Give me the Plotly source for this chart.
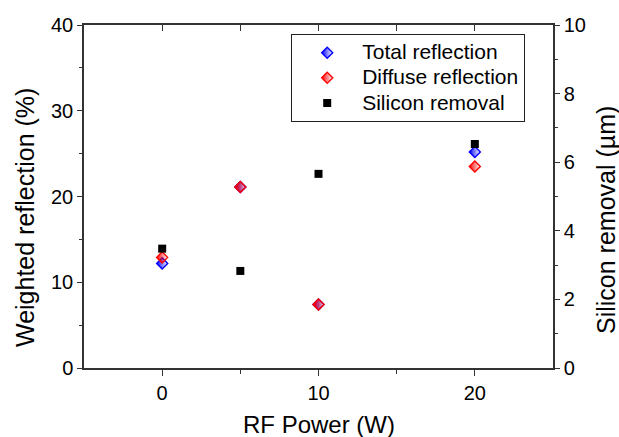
import plotly.graph_objects as go

rf_power = [0, 5, 10, 20]
total_reflection = [12.2, 21.1, 7.4, 25.2]
diffuse_reflection = [12.9, 21.1, 7.4, 23.5]
silicon_removal = [3.48, 2.83, 5.66, 6.53]
series_names = ["Total reflection", "Diffuse reflection", "Silicon removal"]

W, H = 619, 437
L, R, T, B = 84, 553, 25, 368

FONT = "Liberation Sans, Arial, sans-serif"
AX = "#333333"


def big(s):
    return '<span style="font-size:21px">' + s + '</span>'


fig = go.Figure()

fig.add_trace(go.Scatter(
    x=rf_power, y=total_reflection, mode="markers", name=big(series_names[0]),
    marker=dict(symbol="diamond", size=8.5, color="blue",
                gradient=dict(type="horizontal", color="rgba(0,0,255,0)"),
                line=dict(color="blue", width=1.4)),
))
fig.add_trace(go.Scatter(
    x=rf_power, y=diffuse_reflection, mode="markers", name=big(series_names[1]),
    marker=dict(symbol="diamond", size=8.5, color="red",
                gradient=dict(type="horizontal", color="rgba(255,0,0,0)"),
                line=dict(color="red", width=1.4)),
))
fig.add_trace(go.Scatter(
    x=rf_power, y=silicon_removal, mode="markers", name=big(series_names[2]),
    yaxis="y2",
    marker=dict(symbol="square", size=8, color="black", line=dict(width=0)),
))
# invisible trace for the top axis
fig.add_trace(go.Scatter(x=[rf_power[0]], y=[total_reflection[0]], xaxis="x2",
                         mode="markers", marker=dict(opacity=0), showlegend=False,
                         hoverinfo="skip"))

tickfont = dict(family=FONT, size=20, color="black")

fig.update_layout(
    width=W, height=H,
    margin=dict(l=L, r=W - R, t=T, b=H - B, autoexpand=False),
    paper_bgcolor="white", plot_bgcolor="white",
    font=dict(family=FONT, color="black"),
    xaxis=dict(range=[-5, 25], tickvals=[0, 10, 20], ticks="outside", ticklen=6,
               tickwidth=1.3, tickcolor=AX, showline=True, linecolor=AX, linewidth=1.5,
               showgrid=False, zeroline=False, tickfont=tickfont, mirror=True,
               minor=dict(tickvals=[5, 15], ticks="outside", ticklen=4, tickcolor=AX, showgrid=False)),
    xaxis2=dict(range=[-5, 25], overlaying="x", side="top", anchor="y",
                tickvals=[0, 5, 10, 15, 20], ticks="inside", ticklen=6, tickwidth=1.3,
                tickcolor=AX, showticklabels=False, showgrid=False, zeroline=False,
                showline=False),
    yaxis=dict(range=[0, 40], tickvals=[0, 10, 20, 30, 40], ticks="outside", ticklen=5,
               tickwidth=1.3, tickcolor=AX, showline=True, linecolor=AX, linewidth=1.5,
               showgrid=False, zeroline=False, tickfont=tickfont,
               minor=dict(tickvals=[5, 15, 25, 35], ticks="outside", ticklen=3, tickcolor=AX, showgrid=False)),
    yaxis2=dict(range=[0, 10], tickvals=[0, 2, 4, 6, 8, 10], overlaying="y", side="right",
                anchor="x", ticks="outside", ticklen=5, tickwidth=1.3, tickcolor=AX,
                showline=True, linecolor=AX, linewidth=1.5, showgrid=False, zeroline=False,
                tickfont=tickfont,
                minor=dict(tickvals=[1, 3, 5, 7, 9], ticks="outside", ticklen=3, tickcolor=AX, showgrid=False)),
    legend=dict(x=(291 - L) / (R - L), y=(B - 34) / (B - T), xanchor="left", yanchor="top",
                bgcolor="white", bordercolor="#222222", borderwidth=1.2, itemwidth=60,
                font=dict(family=FONT, size=17, color="black")),
    showlegend=True,
)

fig.add_annotation(text="RF Power (W)", xref="paper", yref="paper",
                   x=0.5, y=-(424 - B) / (B - T), xanchor="center", yanchor="middle",
                   showarrow=False, font=dict(family=FONT, size=24, color="black"))
fig.add_annotation(text="Weighted reflection (%)", xref="paper", yref="paper",
                   x=(25 - L) / (R - L), y=(B - 218) / (B - T), xanchor="center", yanchor="middle",
                   textangle=-90, showarrow=False, font=dict(family=FONT, size=25, color="black"))
fig.add_annotation(text="Silicon removal (µm)", xref="paper", yref="paper",
                   x=(606 - L) / (R - L), y=(B - 220) / (B - T), xanchor="center", yanchor="middle",
                   textangle=-90, showarrow=False, font=dict(family=FONT, size=25, color="black"))

fig.write_html("out.html", config={"displayModeBar": False},
               post_script="document.body.style.margin='0';document.body.style.overflow='hidden';")
